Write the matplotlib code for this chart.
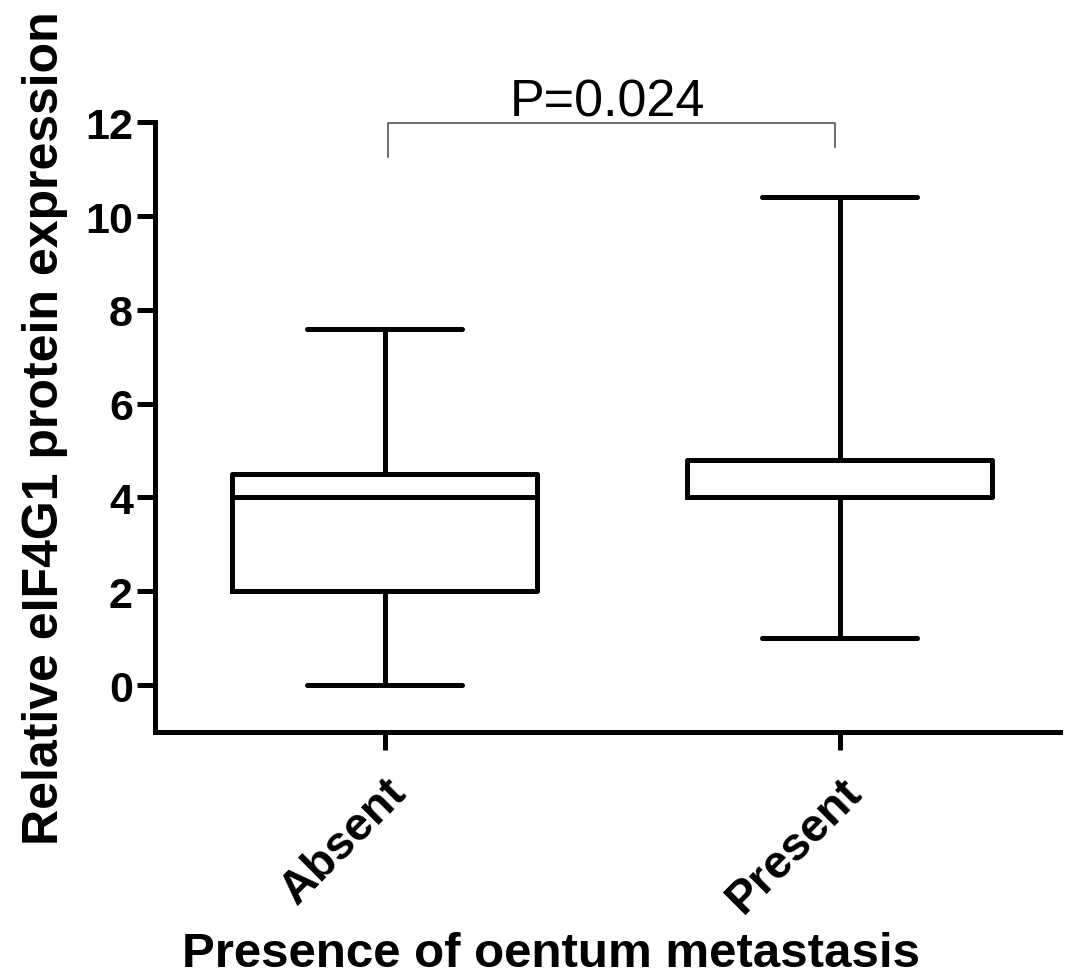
import matplotlib
matplotlib.use("Agg")
from matplotlib import pyplot as plt

# values
groups = ["Absent", "Present"]
whisker_low = [0.0, 1.0]
q1 = [2.0, 4.0]
median = [4.0, 4.0]
q3 = [4.5, 4.8]
whisker_high = [7.6, 10.4]
yticks = [0, 2, 4, 6, 8, 10, 12]
p_text = "P=0.024"

plt.rcParams['font.family'] = ['Liberation Sans', 'DejaVu Sans']

fig = plt.figure(figsize=(10.77, 9.78), dpi=100)
ax = fig.add_axes([0.144, 0.2505, 0.84, 0.6235])

stats = []
for i, g in enumerate(groups):
    stats.append(dict(label=g, whislo=whisker_low[i], q1=q1[i], med=median[i],
                      q3=q3[i], whishi=whisker_high[i], fliers=[]))

lw = 3.6
ax.bxp(stats, positions=[0, 1], widths=0.67, showfliers=False,
       boxprops=dict(linewidth=lw, color='black'),
       medianprops=dict(linewidth=lw, color='black'),
       whiskerprops=dict(linewidth=lw, color='black'),
       capprops=dict(linewidth=lw, color='black', solid_capstyle='round'),
       capwidths=0.34)

ax.set_xlim(-0.505, 1.484)
ax.set_ylim(-1, 12)
ax.set_yticks(yticks)
ax.set_xticks([0, 1])
ax.set_xticklabels(groups, rotation=45, ha='right', rotation_mode='anchor',
                   fontsize=33.5, fontweight='bold')
for lab in ax.get_yticklabels():
    lab.set_fontsize(31)
    lab.set_fontweight('bold')

ax.spines['top'].set_visible(False)
ax.spines['right'].set_visible(False)
ax.spines['left'].set_linewidth(lw)
ax.spines['bottom'].set_linewidth(lw)
ax.tick_params(axis='both', direction='out', length=13, width=lw)
ax.tick_params(axis='y', pad=3)
ax.tick_params(axis='x', pad=14)

ax.set_ylabel("Relative eIF4G1 protein expression", fontsize=36,
              fontweight='bold', labelpad=12)
# x title sits a bit left of the axes centre, right at the bottom edge
fig.text(0.5116, 0.001, "Presence of oentum metastasis", ha='center',
         va='bottom', fontsize=35.5, fontweight='bold')

# significance bracket
ax.plot([0.007, 0.007, 0.99, 0.99], [11.26, 11.98, 11.98, 11.47],
        color='#555555', linewidth=1.2, clip_on=False)
ax.text(0.49, 12.15, p_text, ha='center', va='baseline', fontsize=37.5)

fig.savefig("out.png", dpi=100)
